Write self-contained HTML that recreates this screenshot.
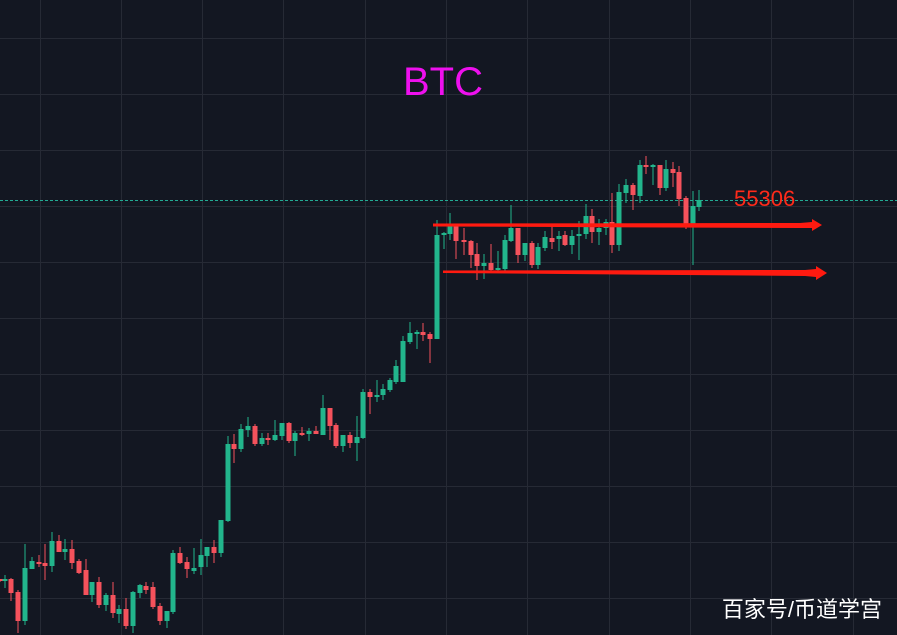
<!DOCTYPE html>
<html><head><meta charset="utf-8"><style>
html,body{margin:0;padding:0;background:#131722;}
svg{display:block}
</style></head><body>
<svg id="s" width="897" height="635" viewBox="0 0 897 635" xmlns="http://www.w3.org/2000/svg">
<rect width="897" height="635" fill="#131722"/>
<g id="grid" stroke="#262a35" stroke-width="1"></g>
<line x1="0" y1="200.5" x2="897" y2="200.5" stroke="#22ab94" stroke-width="1" stroke-dasharray="3,2"/>
<g id="c"></g>
<g fill="#ff1a10">
<polygon points="433,223.5 800,223 812,222 812,219 822,225 812,231 812,228 800,228 433,226.5"/>
<polygon points="443,270.5 805,270 816,269 816,266 827,273 816,280 816,277 805,276 443,273"/>
</g>
<text x="443" y="95" font-family="Liberation Sans, sans-serif" font-size="40" fill="#ee10ee" text-anchor="middle">BTC</text>
<text x="734" y="206" font-family="Liberation Sans, sans-serif" font-size="22" fill="#ff2a1a">55306</text>
<text x="882" y="617" font-family="Liberation Sans, 'Noto Sans CJK SC', sans-serif" font-size="22" fill="#ffffff" text-anchor="end">百家号/币道学宫</text>
</svg>
<script>
var g=document.getElementById('grid'),ns='http://www.w3.org/2000/svg';
for(var i=0;i<12;i++){var x=Math.round(39.5+81.3*i)+.5;var l=document.createElementNS(ns,'line');l.setAttribute('x1',x);l.setAttribute('x2',x);l.setAttribute('y1',0);l.setAttribute('y2',635);g.appendChild(l);}
for(var i=0;i<12;i++){var y=Math.round(38+56*i)+.5;var l=document.createElementNS(ns,'line');l.setAttribute('y1',y);l.setAttribute('y2',y);l.setAttribute('x1',0);l.setAttribute('x2',897);g.appendChild(l);}
var d=[
[0,'r',579,581,579,582],[5,'g',579,581,575,588],[11,'r',579,593,578,601],[18,'r',592,621,590,633],[25,'g',568,621,544,625],
[32,'g',561,569,557,569],[39,'r',562,564,555,567],[45,'r',563,566,544,580],[52,'g',541,566,532,572],[59,'r',541,552,535,552],
[65,'g',549,552,539,560],[72,'r',549,563,540,569],[79,'r',561,573,559,574],[86,'r',570,595,559,595],[92,'g',582,595,582,602],
[99,'r',582,605,577,608],[106,'g',595,605,593,611],[113,'r',595,613,582,618],[119,'g',609,614,605,623],[126,'r',609,626,598,629],
[133,'g',592,626,591,633],[140,'g',585,593,584,598],[146,'r',586,590,582,594],[153,'r',587,607,582,609],[160,'r',606,621,603,625],
[167,'g',611,621,611,628],[173,'g',553,612,550,614],[180,'r',553,563,547,564],[187,'r',562,569,557,578],[194,'g',568,571,548,574],
[201,'g',555,567,539,575],[207,'g',547,556,547,567],[214,'r',547,553,540,563],[221,'g',520,553,520,557],[228,'g',444,521,436,522],
[234,'r',444,449,434,463],[241,'g',429,449,424,452],[248,'g',426,430,417,437],[255,'r',426,444,424,446],[262,'g',438,444,433,446],
[268,'r',438,440,433,445],[275,'g',435,440,420,441],[282,'g',423,436,423,440],[289,'r',423,441,422,443],[295,'g',433,441,431,456],
[302,'r',433,435,427,436],[309,'g',431,434,428,441],[316,'r',431,434,426,434],[323,'g',408,435,395,435],[330,'r',408,426,408,440],
[336,'r',425,446,423,448],[343,'g',435,446,435,452],[350,'r',435,443,432,448],[357,'g',437,443,416,461],[363,'g',392,438,389,439],
[370,'r',392,397,389,414],[377,'g',395,397,380,402],[383,'g',389,395,384,400],[390,'g',380,390,378,392],[396,'g',366,382,360,384],
[403,'g',341,382,336,382],[410,'g',333,342,322,344],[417,'g',332,334,330,349],[423,'r',332,335,323,341],[430,'r',334,339,332,363],
[437,'g',235,339,220,339],[444,'g',233,235,232,249],[450,'g',225,234,213,240],[456,'r',226,241,226,259],[464,'r',240,242,228,255],
[471,'r',241,255,240,268],[477,'r',254,266,243,280],[484,'g',263,266,254,279],[491,'r',263,270,244,272],[498,'g',268,270,251,272],
[505,'g',240,269,235,272],[511,'g',228,241,205,242],[518,'r',228,255,228,263],[525,'g',243,255,243,261],[532,'r',243,265,241,268],
[538,'g',247,265,243,269],[545,'g',237,248,231,251],[552,'r',238,242,226,249],[559,'g',236,239,231,251],[565,'r',235,245,231,246],
[572,'g',236,245,230,254],[579,'g',234,236,221,260],[586,'g',216,234,204,239],[592,'r',216,232,209,243],[599,'g',228,232,219,245],
[606,'g',222,228,219,235],[612,'r',222,245,193,253],[619,'g',192,245,184,251],[626,'g',185,193,179,203],[633,'r',185,195,183,210],
[640,'g',165,196,160,203],[646,'r',165,166,156,174],[653,'g',165,166,164,185],[660,'r',165,188,165,195],[666,'g',169,188,160,191],
[673,'r',169,173,162,187],[679,'r',172,199,166,206],[686,'r',198,224,196,229],[693,'g',206,224,191,265],[699,'g',200,207,190,211]
];
var c=document.getElementById('c');
d.forEach(function(k){var col=k[1]=='g'?'#22b58c':'#f5525c';
var w=document.createElementNS(ns,'rect');w.setAttribute('x',k[0]-0.5);w.setAttribute('width',1);w.setAttribute('y',k[4]);w.setAttribute('height',Math.max(1,k[5]-k[4]));w.setAttribute('fill',col);c.appendChild(w);
var b=document.createElementNS(ns,'rect');b.setAttribute('x',k[0]-2.5);b.setAttribute('width',5);b.setAttribute('y',k[2]);b.setAttribute('height',Math.max(2,k[3]-k[2]));b.setAttribute('fill',col);c.appendChild(b);});
</script>
</body></html>
